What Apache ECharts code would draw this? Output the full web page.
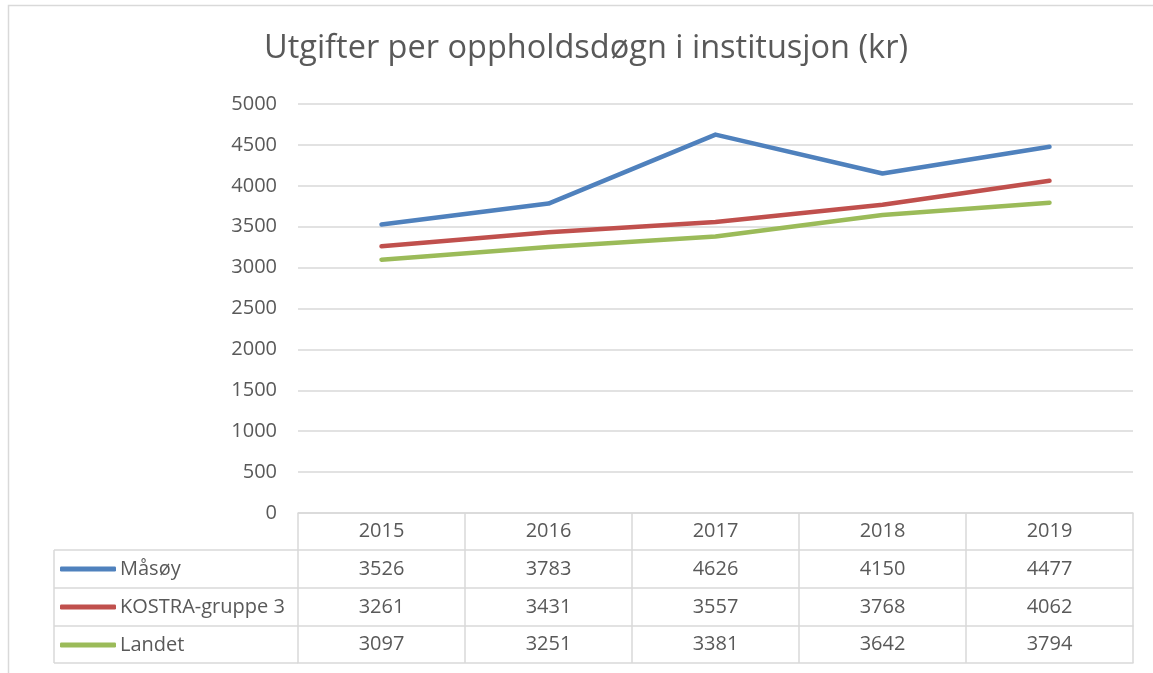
<!DOCTYPE html>
<html>
<head>
<meta charset="utf-8">
<script src="https://cdn.jsdelivr.net/npm/echarts@6/dist/echarts.min.js"></script>
<style>
html,body{margin:0;padding:0;background:#fff;}
#chart{width:1153px;height:673px;}
</style>
</head>
<body>
<div id="chart"></div>
<script>
const titleText = 'Utgifter per oppholdsdøgn i institusjon (kr)';
const years = ['2015', '2016', '2017', '2018', '2019'];
const seriesNames = ['Måsøy', 'KOSTRA-gruppe 3', 'Landet'];
const masoy = [3526, 3783, 4626, 4150, 4477];
const kostra = [3261, 3431, 3557, 3768, 4062];
const landet = [3097, 3251, 3381, 3642, 3794];
const yTicks = [0, 500, 1000, 1500, 2000, 2500, 3000, 3500, 4000, 4500, 5000];
const colors = ['#4F81BD', '#C0504D', '#9BBB59'];

const allValues = [masoy, kostra, landet];
const FONT = '"Open Sans", sans-serif';
const TXT = '#595959';
const LINE = '#D9D9D9';
const FS = 20;

const chart = echarts.init(document.getElementById('chart'));

function tableAxis(idx, offset, h, values) {
  return {
    type: 'category',
    data: years,
    position: 'bottom',
    offset: offset,
    boundaryGap: true,
    axisLine: {show: true, lineStyle: {color: LINE, width: 1.5}},
    axisTick: {show: true, length: h, interval: 0, lineStyle: {color: LINE, width: 1.5}},
    axisLabel: {
      show: true, interval: 0, margin: 0, color: TXT, fontFamily: FONT, fontSize: FS,
      lineHeight: h,
      formatter: values ? function (v, i) { return String(values[i]); } : null
    },
    splitLine: {show: false}
  };
}

const xAxes = [
  tableAxis(0, 0, 37, null),
  tableAxis(1, 37, 38, masoy),
  tableAxis(2, 75, 38, kostra),
  tableAxis(3, 113, 37, landet),
  {type: 'category', data: years, position: 'bottom', offset: 150,
   axisLine: {show: true, lineStyle: {color: LINE, width: 1.5}},
   axisTick: {show: false}, axisLabel: {show: false}, splitLine: {show: false}}
];

const option = {
  backgroundColor: '#ffffff',
  animation: false,
  title: {
    text: titleText,
    left: 581, top: 27, textAlign: 'center',
    textStyle: {fontFamily: FONT, fontSize: 32.5, fontWeight: 'normal', color: TXT}
  },
  legend: {
    orient: 'vertical',
    left: 60, top: 550,
    padding: 0, itemGap: 0,
    itemWidth: 56, itemHeight: 5,
    icon: 'roundRect',
    textStyle: {fontFamily: FONT, fontSize: FS, color: TXT, lineHeight: 38, padding: [0, 0, 0, -1]},
    data: seriesNames
  },
  grid: {left: 298, right: 20, top: 104, bottom: 160, containLabel: false},
  xAxis: xAxes,
  yAxis: {
    type: 'value', min: yTicks[0], max: yTicks[yTicks.length - 1], interval: yTicks[1] - yTicks[0],
    axisLine: {show: false}, axisTick: {show: false},
    axisLabel: {color: TXT, fontFamily: FONT, fontSize: FS, margin: 21, formatter: function (v) { return String(v); }},
    splitLine: {lineStyle: {color: LINE, width: 1.5}}
  },
  graphic: [
    {type: 'rect', shape: {x: 8.5, y: 5.5, width: 1300, height: 800}, style: {fill: 'none', stroke: LINE, lineWidth: 1.5}, silent: true},
    {type: 'line', shape: {x1: 54, y1: 550, x2: 298, y2: 550}, style: {stroke: LINE, lineWidth: 1.5}},
    {type: 'line', shape: {x1: 54, y1: 588, x2: 298, y2: 588}, style: {stroke: LINE, lineWidth: 1.5}},
    {type: 'line', shape: {x1: 54, y1: 626, x2: 298, y2: 626}, style: {stroke: LINE, lineWidth: 1.5}},
    {type: 'line', shape: {x1: 54, y1: 663, x2: 298, y2: 663}, style: {stroke: LINE, lineWidth: 1.5}},
    {type: 'line', shape: {x1: 54, y1: 550, x2: 54, y2: 663}, style: {stroke: LINE, lineWidth: 1.5}}
  ],
  series: seriesNames.map((name, i) => ({
    name: name,
    type: 'line',
    xAxisIndex: 0,
    data: allValues[i],
    symbol: 'none',
    color: colors[i],
    lineStyle: {width: 4.5, color: colors[i], cap: 'round', join: 'round'}
  }))
};
chart.setOption(option);
</script>
</body>
</html>
